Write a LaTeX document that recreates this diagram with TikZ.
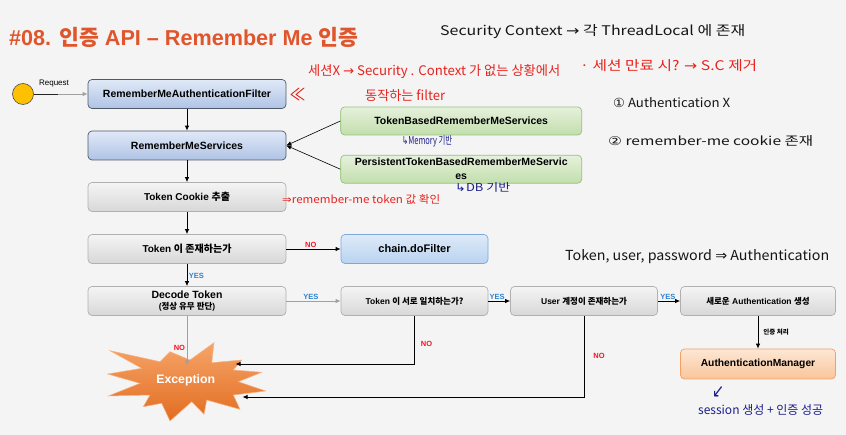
\documentclass[tikz,border=0pt]{standalone}
\usepackage{fontspec}
\setmainfont{Liberation Sans}
\newfontfamily\kr{Noto Sans CJK KR}
\newfontfamily\sym{DejaVu Sans}
\usepackage{graphicx}
\usetikzlibrary{arrows.meta}
\newcommand\K[1]{{\kr #1}}
\newcommand\hw[3]{\resizebox{#1pt}{#2pt}{\kr #3}}
\definecolor{bgc}{HTML}{F4F4F4}
\definecolor{titlec}{HTML}{E0552C}
\definecolor{gtop}{HTML}{F4F4F4}
\definecolor{gbot}{HTML}{D8D8D8}
\definecolor{gbd}{HTML}{B0B0B0}
\definecolor{btop}{HTML}{E0E9F7}
\definecolor{bbot}{HTML}{AFC3E5}
\definecolor{bbd}{HTML}{4F5968}
\definecolor{ctop}{HTML}{DEEAF8}
\definecolor{cbot}{HTML}{B9D3F0}
\definecolor{cbd}{HTML}{7EA8DC}
\definecolor{grtop}{HTML}{E6F1DC}
\definecolor{grbot}{HTML}{C2DEAC}
\definecolor{grbd}{HTML}{92C47A}
\definecolor{atop}{HTML}{FDE7D5}
\definecolor{abot}{HTML}{F9C59B}
\definecolor{abd}{HTML}{F2A066}
\definecolor{yesc}{HTML}{2F80D0}
\definecolor{noc}{HTML}{FF1020}
\definecolor{redh}{HTML}{E8231E}
\definecolor{blueh}{HTML}{1C1F8A}
\definecolor{blackh}{HTML}{151515}
\definecolor{linegray}{HTML}{A0A0A0}
\definecolor{startc}{HTML}{FFC000}
\begin{document}
\begin{tikzpicture}[x=1pt,y=-1pt,
  >={Latex[length=5pt,width=4.5pt]},
  conn/.style={->, line width=0.8pt, draw=black},
  boxbase/.style={rounded corners=4pt, line width=0.7pt, align=center, inner sep=1pt,
    font=\bfseries\fontsize{10}{12}\selectfont},
  grayb/.style={boxbase, draw=gbd, top color=gtop, bottom color=gbot},
  blueb/.style={boxbase, draw=bbd, top color=btop, bottom color=bbot, font=\bfseries\fontsize{10.5}{12}\selectfont},
  chainb/.style={boxbase, draw=cbd, top color=ctop, bottom color=cbot, font=\bfseries\fontsize{11}{13}\selectfont},
  greenb/.style={boxbase, draw=grbd, top color=grtop, bottom color=grbot, font=\bfseries\fontsize{10.5}{14}\selectfont},
  amb/.style={boxbase, draw=abd, top color=atop, bottom color=abot, font=\bfseries\fontsize{10.3}{12}\selectfont},
  wide/.style={minimum width=198pt, minimum height=29pt},
  narrow/.style={minimum width=147pt, minimum height=29pt, font=\bfseries\fontsize{8.5}{10}\selectfont},
  yes/.style={text=yesc, font=\bfseries\fontsize{7.5}{8}\selectfont, inner sep=1.5pt},
  no/.style={text=noc, font=\bfseries\fontsize{7.5}{8}\selectfont, inner sep=1.5pt},
  note/.style={anchor=base west, inner sep=0pt},
]
\useasboundingbox[fill=bgc] (0,0) rectangle (846,435);

% title
\node[anchor=base west, inner sep=0pt, text=titlec, font=\bfseries\fontsize{21.6}{24}\selectfont] (title) at (9,46)
  {\#08. \K{인증} API -- Remember Me \K{인증}};

% start
\node[circle, fill=startc, draw=black!70, line width=0.6pt, minimum size=21pt, inner sep=0pt] (start) at (23,94) {};

% main column
\node[blueb, wide] (filter) at (187,94) {RememberMeAuthenticationFilter};
\node[blueb, wide] (services) at (187,145.5) {RememberMeServices};
\node[grayb, wide] (cookie) at (187,197) {Token Cookie \K{추출}};
\node[grayb, wide] (exist) at (187,249) {Token \K{이 존재하는가}};
\node[grayb, wide] (decode) at (187,301) {\fontsize{10.5}{12}\selectfont Decode Token\\[-0.5pt]{\fontsize{8.5}{10}\selectfont(\K{정상 유무 판단})}};

% right
\node[greenb, minimum width=241pt, minimum height=28pt] (tb) at (461.2,121) {TokenBasedRememberMeServices};
\node[greenb, minimum width=241pt, minimum height=28pt] (ptb) at (461.2,169.2) {PersistentTokenBasedRememberMeServic\\es};
\node[chainb, minimum width=147pt, minimum height=29pt] (chain) at (414.5,249) {chain.doFilter};
\node[grayb, narrow] (match) at (414.5,301) {Token \K{이 서로 일치하는가?}};
\node[grayb, narrow] (user) at (584,301) {User \K{계정이 존재하는가}};
\node[grayb, narrow, minimum width=155pt] (newauth) at (758,301) {\K{새로운} Authentication \K{생성}};
\node[amb, minimum width=155pt, minimum height=30pt] (am) at (758,364) {AuthenticationManager};

% exception starburst
\shade[top color={rgb,255:red,246;green,165;blue,105}, bottom color={rgb,255:red,226;green,108;blue,32},
  draw={rgb,255:red,248;green,178;blue,130}, line width=0.5pt]
  (110,350.7) -- (160,361.7) -- (170,351.7) -- (190,360) -- (214,342.7) -- (211.7,362.7)
  -- (241.7,360) -- (233.3,370) -- (261.7,372.3) -- (238.3,381.7) -- (265.7,391)
  -- (233.3,395) -- (240,409.3) -- (206.7,400) -- (204,414.3) -- (191.7,401.7)
  -- (170,421) -- (161.7,403.3) -- (143.3,406.7) -- (150,395) -- (108.3,396)
  -- (140,383.3) -- (107.7,374) -- (141.7,368.3) -- cycle;
\node[text=white, font=\bfseries\fontsize{12.3}{14}\selectfont] (exc) at (185.7,380) {Exception};
\coordinate (exA) at (187,365.5);
\coordinate (exB) at (235.5,364);
\coordinate (exC) at (242.5,397);

% connectors
\draw[line width=0.8pt, draw=black!85] (start) -- (58,94);
\draw[conn, draw=linegray] (58,94) -- (filter.west);
\node[font=\fontsize{8}{9}\selectfont, inner sep=0pt] (req) at (54,83.5) {Request};
\draw[conn] (filter) -- (services);
\draw[conn] (services) -- (cookie);
\draw[conn] (cookie) -- (exist);
\draw[conn] (exist) -- node[yes, right, pos=0.55] {YES} (decode);
\draw[conn] (exist) -- node[no, above, pos=0.45] {NO} (chain);
\draw[conn, draw=linegray] (decode) -- node[yes, above, pos=0.45] {YES} (match);
\draw[conn] (match) -- node[yes, above, pos=0.4] {YES} (user);
\draw[conn] (user) -- node[yes, above, pos=0.45] {YES} (newauth);
\draw[conn] (newauth) -- node[right, font=\kr\bfseries\fontsize{6.5}{7}\selectfont, pos=0.5, inner sep=5pt] {인증 처리} (am);
\draw[conn, draw=linegray, line width=1pt] (decode) -- node[no, left, pos=0.65] {NO} (exA);
\draw[conn] (match.south) |- node[no, pos=0.29, right, inner sep=6pt] {NO} (exB);
\draw[conn] (user.south) |- node[no, pos=0.245, right, inner sep=9pt] {NO} (exC);
\draw[conn, line width=0.6pt] (tb.west) -- (services.east);
\draw[conn, line width=0.6pt] (ptb.west) -- (services.east);

% handwritten notes
\node[note, text=blackh] (n1) at (440,36) {\hw{305}{11}{Security Context {\sym →} 각 ThreadLocal 에 존재}};
\node[note, text=redh] (n2) at (308,76) {\hw{252}{11}{세션X {\sym →} Security . Context 가 없는 상황에서}};
\node[note, text=redh] (n3) at (580,71) {\hw{177}{11}{· 세션 만료 시? {\sym →} S.C 제거}};
\node[note, text=redh] (n4) at (365,101) {\hw{80}{11}{동작하는 filter}};
\draw[redh, line width=0.9pt, line cap=round, line join=round] (299,88) -- (291,94.5) -- (299,100);
\draw[redh, line width=0.9pt, line cap=round, line join=round] (304,88) -- (296,94.5) -- (304,100);
\node[note, text=blackh] (n5) at (613,108) {\hw{117}{10}{{\sym ①} Authentication X}};
\node[note, text=blackh] (n6) at (608,146) {\hw{205}{10}{{\sym ②} remember-me cookie 존재}};
\node[note, text=blueh] (n7) at (402,145) {\hw{50}{9}{{\sym ↳}Memory 기반}};
\node[note, text=blueh] (n8) at (455,192) {\hw{55}{9}{{\sym ↳}DB 기반}};
\node[note, text=redh] (n9) at (282,204) {\hw{158}{9}{{\sym ⇒}remember-me token 값 확인}};
\node[note, text=blackh] (n10) at (565,261) {\hw{264}{11}{Token, user, password {\sym ⇒} Authentication}};
\node[note, text=blueh] (n11) at (712,397) {\hw{12}{11}{{\sym ↙}}};
\node[note, text=blueh] (n12) at (698,415) {\hw{125}{10}{session 생성 + 인증 성공}};
\end{tikzpicture}
\end{document}
